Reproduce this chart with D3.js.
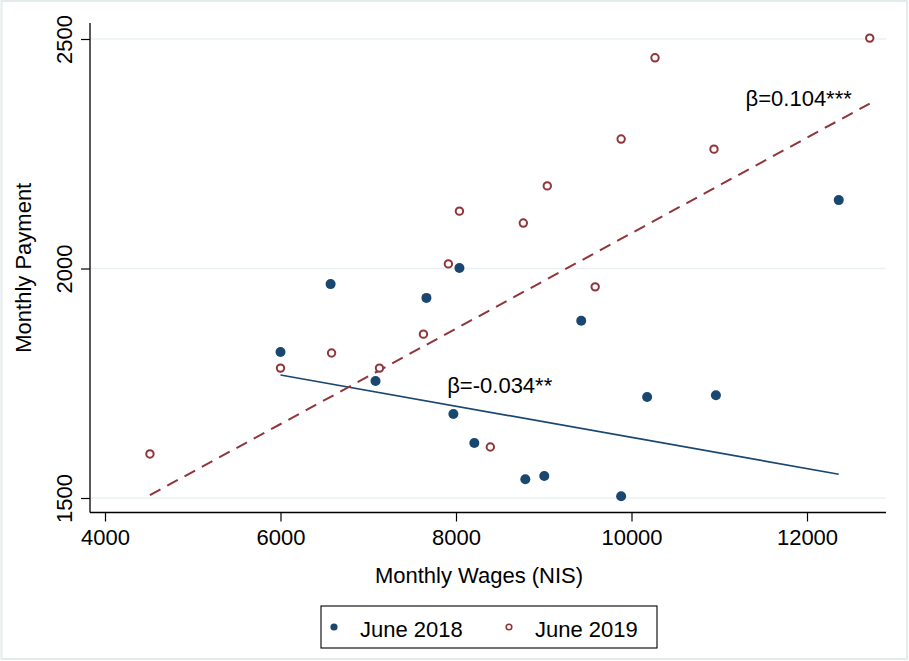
<!DOCTYPE html>
<html>
<head>
<meta charset="utf-8">
<script src="https://cdn.jsdelivr.net/npm/d3@7/dist/d3.min.js"></script>
<style>
  html, body { margin: 0; padding: 0; background: #ffffff; }
  svg { display: block; }
  text { font-family: "Liberation Sans", Arial, Helvetica, sans-serif; fill: #000; }
</style>
</head>
<body>
<svg id="chart" width="909" height="661"></svg>
<script>
// Monthly wages (NIS) and monthly payment, by period
const wages2018 = [6000, 6571, 7083, 7663, 8039, 7970, 8209, 8790, 9006, 9427, 9882, 10178, 10962, 12362];
const payment2018 = [1818, 1966, 1755, 1936, 2001, 1683, 1620, 1541, 1548, 1886, 1504, 1720, 1724, 2149];

const wages2019 = [4512, 6000, 6582, 7128, 7629, 7913, 8039, 8391, 8767, 9040, 9586, 9882, 10268, 10940, 12715];
const payment2019 = [1596, 1783, 1816, 1783, 1857, 2010, 2125, 1611, 2099, 2180, 1960, 2282, 2459, 2260, 2502];

// Linear fits: payment = intercept + slope * wage
const seriesNames = ["June 2018", "June 2019"];
const fitSlope = [-0.034, 0.104];
const fitIntercept = [1972, 1037];
const fitLabels = ["β=-0.034**", "β=0.104***"];
// where each fit label is anchored, in data units (wage, payment)
const labelWage = [7900, 11300];
const labelPayment = [1729, 2354];

const xTicks = [4000, 6000, 8000, 10000, 12000];
const yTicks = [1500, 2000, 2500];

const navy = "#1a476f";
const maroon = "#90353b";
const grid = "#eaf0f2";

const svg = d3.select("#chart");

// outer frame
svg.append("rect")
  .attr("x", 1.5).attr("y", 1).attr("width", 905.5).attr("height", 658)
  .attr("fill", "none").attr("stroke", "#e3ebed").attr("stroke-width", 2);

const plot = { left: 90, right: 886, top: 23, bottom: 512.5 };

const x = d3.scaleLinear().domain([4000, 12000]).range([105, 807]);
const y = d3.scaleLinear().domain([1500, 2500]).range([498, 39]);

// horizontal grid lines
svg.append("g").selectAll("line").data(yTicks).join("line")
  .attr("x1", plot.left + 1).attr("x2", plot.right)
  .attr("y1", d => y(d)).attr("y2", d => y(d))
  .attr("stroke", grid).attr("stroke-width", 1.6);

// x axis
const xAxis = svg.append("g")
  .attr("transform", `translate(0,${plot.bottom})`)
  .call(d3.axisBottom(x).tickValues(xTicks).tickSize(9).tickPadding(8).tickFormat(d3.format("d")));
xAxis.select(".domain").remove();
xAxis.selectAll(".tick line").attr("stroke", "#000").attr("stroke-width", 1.2);
xAxis.selectAll(".tick text").attr("font-size", 22).attr("font-family", "Liberation Sans, Arial, sans-serif");
svg.append("line")
  .attr("x1", plot.left).attr("x2", plot.right)
  .attr("y1", plot.bottom).attr("y2", plot.bottom)
  .attr("stroke", "#000").attr("stroke-width", 1.3);

// y axis with vertical tick labels
const yAxis = svg.append("g")
  .attr("transform", `translate(${plot.left},0)`)
  .call(d3.axisLeft(y).tickValues(yTicks).tickSize(9).tickFormat(d3.format("d")));
yAxis.select(".domain").remove();
yAxis.selectAll(".tick line").attr("stroke", "#000").attr("stroke-width", 1.2);
yAxis.selectAll(".tick text")
  .attr("font-size", 22).attr("font-family", "Liberation Sans, Arial, sans-serif")
  .attr("x", 0).attr("y", -18).attr("dy", null)
  .attr("text-anchor", "middle")
  .attr("transform", "rotate(-90)");
svg.append("line")
  .attr("x1", plot.left).attr("x2", plot.left)
  .attr("y1", plot.top).attr("y2", plot.bottom)
  .attr("stroke", "#000").attr("stroke-width", 1.3);

// axis titles
svg.append("text")
  .attr("x", 479).attr("y", 583)
  .attr("text-anchor", "middle").attr("font-size", 22)
  .text("Monthly Wages (NIS)");
svg.append("text")
  .attr("transform", `translate(31,${(plot.top + plot.bottom) / 2}) rotate(-90)`)
  .attr("text-anchor", "middle").attr("font-size", 22)
  .text("Monthly Payment");

// fitted lines over each series' wage range
const line = d3.line().x(d => x(d[0])).y(d => y(d[1]));
const fitStyles = [
  { color: navy, dash: null, width: 1.7 },
  { color: maroon, dash: "12,7.7", width: 2 }
];
[wages2018, wages2019].forEach((w, i) => {
  const [lo, hi] = d3.extent(w);
  const pts = [lo, hi].map(v => [v, fitIntercept[i] + fitSlope[i] * v]);
  svg.append("path")
    .attr("d", line(pts))
    .attr("fill", "none")
    .attr("stroke", fitStyles[i].color)
    .attr("stroke-width", fitStyles[i].width)
    .attr("stroke-dasharray", fitStyles[i].dash);
});

// scatter points
const pts2018 = wages2018.map((w, i) => [w, payment2018[i]]);
const pts2019 = wages2019.map((w, i) => [w, payment2019[i]]);

svg.append("g").selectAll("circle").data(pts2018).join("circle")
  .attr("cx", d => x(d[0])).attr("cy", d => y(d[1]))
  .attr("r", 5).attr("fill", navy);

svg.append("g").selectAll("circle").data(pts2019).join("circle")
  .attr("cx", d => x(d[0])).attr("cy", d => y(d[1]))
  .attr("r", 3.7).attr("fill", "#fff")
  .attr("stroke", maroon).attr("stroke-width", 2);

// slope annotations
fitLabels.forEach((t, i) => {
  svg.append("text")
    .attr("x", x(labelWage[i])).attr("y", y(labelPayment[i]))
    .attr("font-size", 22)
    .text(t);
});

// legend
const legend = svg.append("g");
legend.append("rect")
  .attr("x", 321).attr("y", 606).attr("width", 336).attr("height", 42)
  .attr("fill", "#fff").attr("stroke", "#000").attr("stroke-width", 1.1);
const legendX = [334, 509];
legend.append("circle").attr("cx", legendX[0]).attr("cy", 627).attr("r", 3.6).attr("fill", navy);
legend.append("circle").attr("cx", legendX[1]).attr("cy", 627).attr("r", 2.8)
  .attr("fill", "#fff").attr("stroke", maroon).attr("stroke-width", 1.6);
seriesNames.forEach((n, i) => {
  legend.append("text")
    .attr("x", legendX[i] + 26).attr("y", 636.5)
    .attr("font-size", 22)
    .text(n);
});
</script>
</body>
</html>
